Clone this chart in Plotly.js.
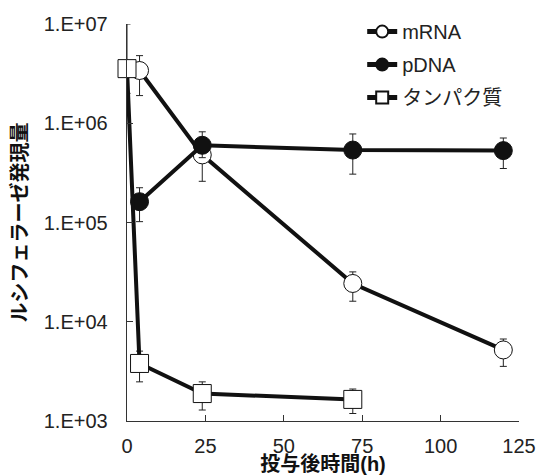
<!DOCTYPE html>
<html><head><meta charset="utf-8">
<script src="https://cdn.plot.ly/plotly-3.0.1.min.js"></script>
<style>html,body{margin:0;padding:0;background:#fff}</style>
</head><body><div id="chart" style="width:538px;height:475px"></div>
<script>
const seriesNames = ["mRNA", "pDNA", "タンパク質"];
const mrnaX = [4, 24, 72, 120];
const mrnaY = [3.4e6, 4.8e5, 2.43e4, 5.2e3];
const mrnaHi = [4.8e6, 6.0e5, 3.18e4, 6.7e3];
const mrnaLo = [1.9e6, 2.6e5, 1.61e4, 3.55e3];
const pdnaX = [4, 24, 72, 120];
const pdnaY = [1.62e5, 6.0e5, 5.37e5, 5.3e5];
const pdnaHi = [2.24e5, 8.2e5, 7.8e5, 7.1e5];
const pdnaLo = [1.02e5, 4.5e5, 3.07e5, 3.5e5];
const protX = [0, 4, 24, 72];
const protY = [3.55e6, 3.8e3, 1.89e3, 1.65e3];
const protHi = [1.0e7, 5.06e3, 2.48e3, 2.1e3];
const protLo = [2.0e6, 2.48e3, 1.29e3, 1.19e3];
const yTickVals = [1e3, 1e4, 1e5, 1e6, 1e7];
const yTickText = ["1.E+03", "1.E+04", "1.E+05", "1.E+06", "1.E+07"];
const xTickVals = [0, 25, 50, 75, 100, 125];
const xTitle = "投与後時間(h)";
const yTitle = "ルシフェラーゼ発現量";

const font = "Liberation Sans, Arial, Noto Sans CJK JP, sans-serif";
function err(y, hi, lo) {
  return {type: "data", symmetric: false,
    array: hi.map((h, i) => h - y[i]), arrayminus: lo.map((l, i) => y[i] - l),
    color: "#222", thickness: 1, width: 3.5};
}
function trace(name, x, y, hi, lo, symbol, fill) {
  return {type: "scatter", mode: "lines+markers", name: name, legendgroup: name, x: x, y: y,
    line: {color: "#111", width: 4},
    marker: {symbol: symbol, size: 18, color: fill, line: {color: "#111", width: 1}},
    error_y: err(y, hi, lo), cliponaxis: false};
}
const data = [
  trace(seriesNames[0], mrnaX, mrnaY, mrnaHi, mrnaLo, "circle", "#fff"),
  trace(seriesNames[1], pdnaX, pdnaY, pdnaHi, pdnaLo, "circle", "#111"),
  trace(seriesNames[2], protX, protY, protHi, protLo, "square", "#fff")
];
const layout = {
  width: 538, height: 475,
  margin: {l: 127, r: 19, t: 24, b: 54},
  paper_bgcolor: "#fff", plot_bgcolor: "#fff",
  font: {family: font, size: 20, color: "#222"},
  showlegend: true,
  legend: {x: 0.6, y: 1.03, xanchor: "left", yanchor: "top", itemsizing: "constant",
    font: {family: font, size: 20, color: "#222"}, tracegroupgap: 4, itemwidth: 30,
    traceorder: "grouped", bgcolor: "rgba(0,0,0,0)"},
  xaxis: {range: [0, 125], tickvals: xTickVals, ticks: "inside", ticklen: 6,
    tickcolor: "#333", showline: true, linecolor: "#333", linewidth: 1.3,
    showgrid: false, zeroline: false, tickfont: {size: 20}, ticklabelstandoff: 7,
    automargin: false,
    title: {text: xTitle, font: {size: 20, family: font, weight: "bold", color: "#111"}, standoff: 1}},
  yaxis: {type: "log", range: [3, 7], tickvals: yTickVals, ticktext: yTickText,
    ticks: "inside", ticklen: 6, tickcolor: "#333", showline: true, linecolor: "#333",
    linewidth: 1.3, showgrid: false, zeroline: false, tickfont: {size: 20},
    ticklabelstandoff: 14, automargin: false,
    title: {text: yTitle, font: {size: 20, family: font, weight: "bold", color: "#111"}, standoff: 10}}
};
Plotly.newPlot("chart", data, layout, {displayModeBar: false, staticPlot: true});
</script></body></html>
